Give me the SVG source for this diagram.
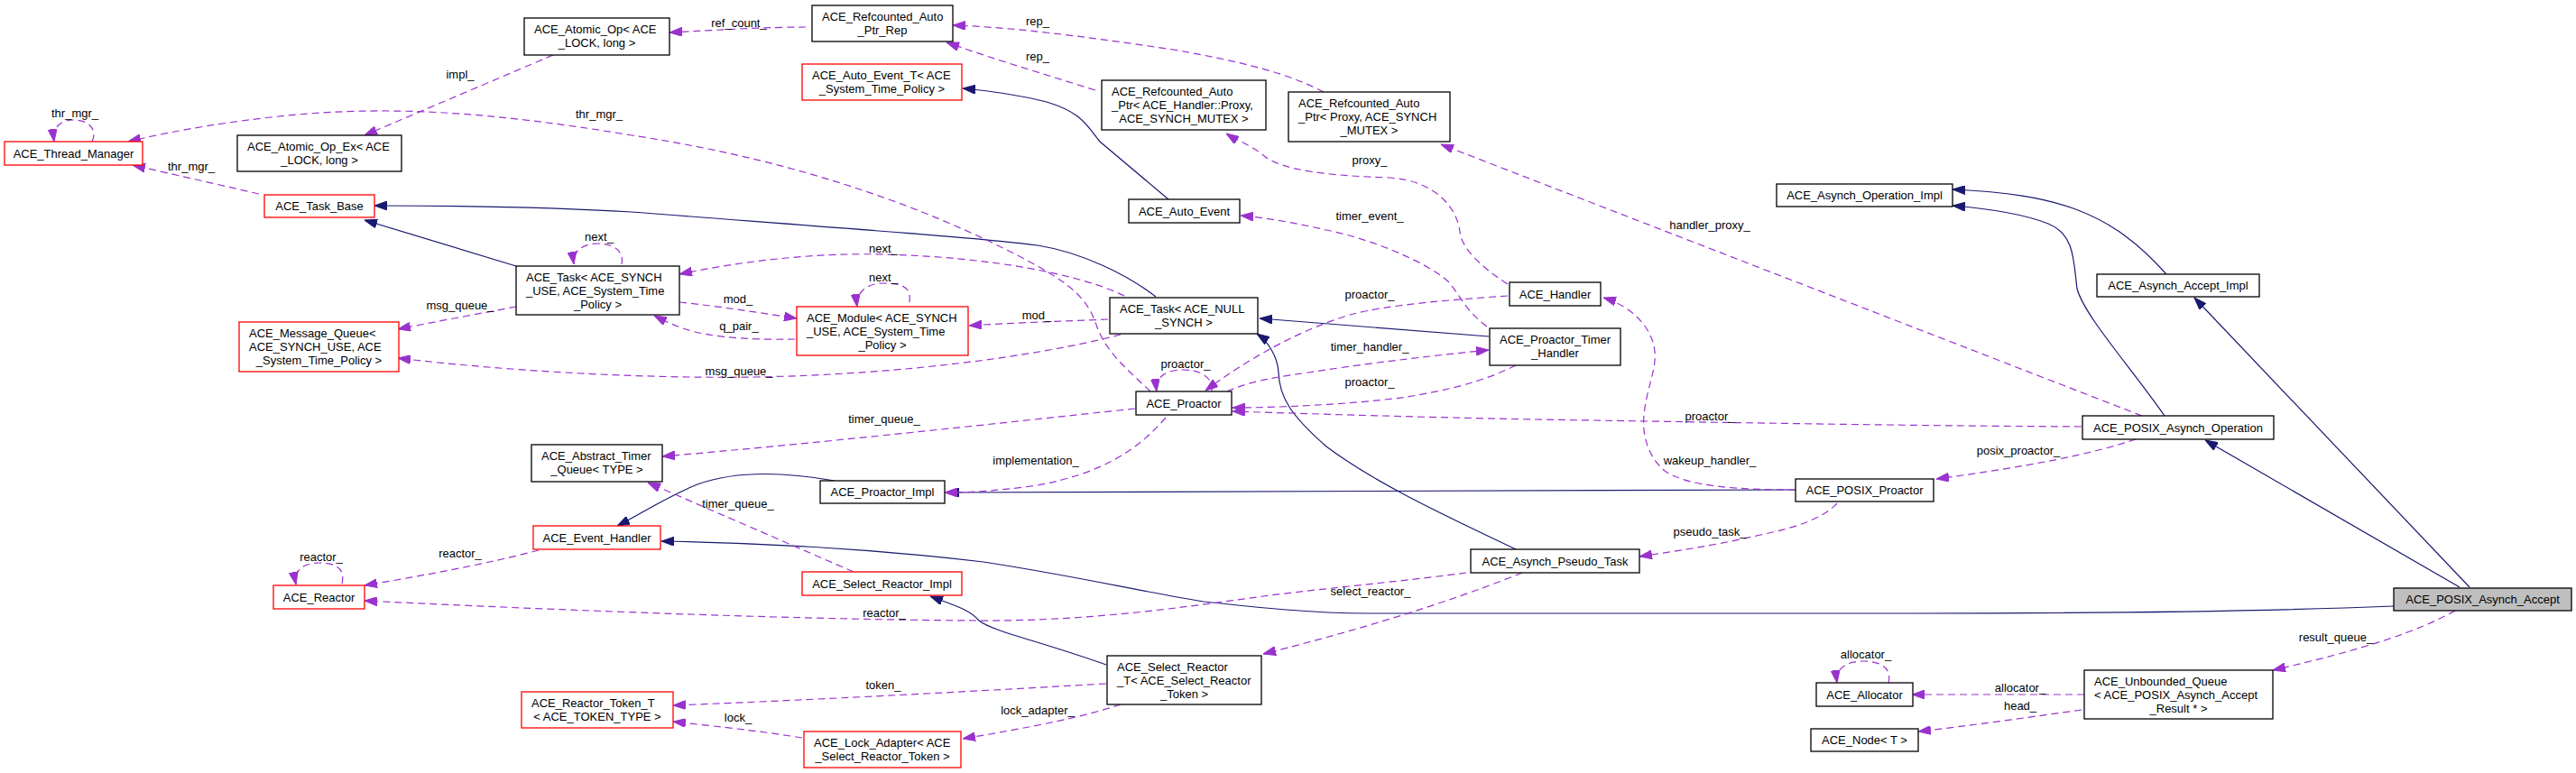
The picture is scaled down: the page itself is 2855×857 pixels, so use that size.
<svg xmlns="http://www.w3.org/2000/svg" width="2855" height="857" viewBox="0 0 2855 857">
<defs>
<marker id="pa" viewBox="0 0 14 10" refX="14" refY="5" markerWidth="14" markerHeight="10" markerUnits="userSpaceOnUse" orient="auto"><path d="M0,0 L14,5 L0,10 z" fill="#9a32cd" stroke="#9a32cd" stroke-width="1"/></marker>
<marker id="na" viewBox="0 0 14 10" refX="14" refY="5" markerWidth="14" markerHeight="10" markerUnits="userSpaceOnUse" orient="auto"><path d="M0,0 L14,5 L0,10 z" fill="#191970" stroke="#191970" stroke-width="1"/></marker>
<style>
text{font-family:"Liberation Sans",Arial,Helvetica,sans-serif;font-size:13px;fill:#000}
.c{text-anchor:middle}
.r rect{stroke:#ff0000;fill:#fff;stroke-width:1.3}
.b rect{stroke:#000;fill:#fff;stroke-width:1.3}
.g rect{stroke:#000;fill:#bfbfbf;stroke-width:1.3}
.e path{fill:none;stroke-width:1.2}
.m{stroke:#9a32cd;stroke-dasharray:8,5;marker-end:url(#pa)}
.i{stroke:#191970;marker-end:url(#na)}
</style>
</defs>
<rect width="2855" height="857" fill="#fff"/>
<g id="edges" class="e">
<!-- inheritance -->
<path class="i" d="M572,295 L404,244"/>
<path class="i" d="M1281,329 C1250,305 1200,280 1150,272 C1100,265 1000,258 700,235 C600,229 500,228 415,228"/>
<path class="i" d="M1295,221 L1219,157 C1205,140 1200,125 1160,113 C1120,103 1090,100 1067,98"/>
<path class="i" d="M1650,373 L1396,353"/>
<path class="i" d="M1680,609 C1620,580 1530,540 1470,495 C1430,460 1418,440 1417,413 C1416,395 1405,378 1393,370"/>
<path class="i" d="M925,533 C880,525 820,520 773,537 C740,550 710,570 684,583"/>
<path class="i" d="M1990,543 L1049,546"/>
<path class="i" d="M1226,737 C1150,710 1100,700 1085,688 C1075,676 1060,672 1031,661"/>
<path class="i" d="M2653,672 C2500,678 2300,680 2120,680 L1515,680 C1450,680 1380,672 1334,667 C1260,655 1200,640 1090,623 C980,610 850,602 733,600"/>
<path class="i" d="M2726,651 L2444,488"/>
<path class="i" d="M2737,651 L2432,330"/>
<path class="i" d="M2401,304 C2340,235 2280,215 2164,210"/>
<path class="i" d="M2399,461 C2360,405 2310,350 2302,320 C2298,290 2300,260 2270,248 C2240,236 2200,231 2164,228"/>
<!-- members -->
<path class="m" d="M102,157 C108,145 100,133 82,133 C66,133 58,142 60,157"/>
<path class="m" d="M287,215 L147,183"/>
<path class="m" d="M1275,434 C1250,410 1225,390 1215,360 C1205,330 1185,315 1150,295 C1050,240 900,180 700,150 C550,125 430,115 300,130 C230,138 180,148 142,157"/>
<path class="m" d="M613,61 L404,150"/>
<path class="m" d="M893,30 C850,30 800,33 742,36"/>
<path class="m" d="M1467,102 C1440,88 1400,72 1300,55 C1200,40 1120,30 1056,28"/>
<path class="m" d="M1214,100 C1150,80 1100,65 1049,47"/>
<path class="m" d="M1671,315 C1640,295 1620,275 1618,257 C1615,230 1590,200 1540,197 C1480,195 1420,190 1400,172 C1385,160 1370,155 1359,148"/>
<path class="m" d="M1648,362 C1625,345 1620,330 1605,312 C1580,290 1520,265 1470,255 C1430,246 1400,241 1375,239"/>
<path class="m" d="M2374,461 L1597,160"/>
<path class="m" d="M1246,328 C1200,305 1100,285 980,282 C900,280 820,290 753,304"/>
<path class="m" d="M1228,354 C1180,356 1120,358 1074,361"/>
<path class="m" d="M753,335 C800,340 850,348 883,353"/>
<path class="m" d="M881,376 C840,377 790,375 760,365 C745,360 735,355 725,350"/>
<path class="m" d="M1008,335 C1010,318 1000,314 979,314 C960,314 948,325 950,340"/>
<path class="m" d="M689,293 C692,278 680,270 662,270 C645,270 634,280 636,293"/>
<path class="m" d="M572,340 C530,348 480,357 441,365"/>
<path class="m" d="M1242,371 C1150,395 1000,415 838,418 C700,420 550,410 441,397"/>
<path class="m" d="M1258,453 C1100,470 900,492 734,506"/>
<path class="m" d="M1292,463 C1260,500 1220,525 1150,538 C1100,545 1070,546 1047,546"/>
<path class="m" d="M946,634 L718,535"/>
<path class="m" d="M1343,434 C1345,418 1330,410 1311,410 C1292,410 1280,418 1282,434"/>
<path class="m" d="M1671,328 C1600,333 1540,338 1500,348 C1440,365 1380,400 1336,433"/>
<path class="m" d="M1360,434 C1380,425 1400,420 1450,413 C1520,402 1600,393 1650,388"/>
<path class="m" d="M1680,405 C1640,425 1600,433 1560,440 C1500,448 1420,452 1366,452"/>
<path class="m" d="M2307,473 C2100,472 1900,468 1700,465 C1550,462 1430,458 1366,456"/>
<path class="m" d="M2367,487 C2320,503 2250,517 2146,531"/>
<path class="m" d="M1990,543 C1930,543 1870,540 1845,522 C1825,505 1820,480 1822,460 C1825,430 1836,410 1834,390 C1832,365 1810,340 1777,330"/>
<path class="m" d="M2036,558 C2020,575 1990,585 1951,593 C1900,605 1850,612 1817,617"/>
<path class="m" d="M1687,635 C1600,670 1500,700 1400,725"/>
<path class="m" d="M1625,635 C1550,645 1470,652 1400,661 C1300,675 1200,689 1081,688 C900,687 650,678 404,666"/>
<path class="m" d="M597,610 C540,625 470,638 404,649"/>
<path class="m" d="M379,647 C383,630 372,624 354,624 C336,624 325,633 328,648"/>
<path class="m" d="M1226,758 C1050,768 900,776 746,782"/>
<path class="m" d="M1242,781 C1200,795 1150,805 1067,819"/>
<path class="m" d="M889,818 C840,810 790,805 746,800"/>
<path class="m" d="M2721,677 C2680,700 2620,720 2519,743"/>
<path class="m" d="M2310,770 L2119,770"/>
<path class="m" d="M2307,787 C2250,795 2180,805 2126,811"/>
<path class="m" d="M2093,757 C2097,741 2085,733 2065,733 C2045,733 2034,742 2036,757"/>
<!-- labels -->
<text class="c" x="83" y="130">thr_mgr_</text>
<text class="c" x="212" y="189">thr_mgr_</text>
<text class="c" x="664" y="131">thr_mgr_</text>
<text class="c" x="510" y="87">impl_</text>
<text class="c" x="819" y="30">ref_count_</text>
<text class="c" x="1150" y="28">rep_</text>
<text class="c" x="1150" y="67">rep_</text>
<text class="c" x="1518" y="182">proxy_</text>
<text class="c" x="1518" y="244">timer_event_</text>
<text class="c" x="1895" y="254">handler_proxy_</text>
<text class="c" x="979" y="280">next_</text>
<text class="c" x="1149" y="354">mod_</text>
<text class="c" x="818" y="336">mod_</text>
<text class="c" x="819" y="366">q_pair_</text>
<text class="c" x="979" y="312">next_</text>
<text class="c" x="664" y="267">next_</text>
<text class="c" x="510" y="343">msg_queue_</text>
<text class="c" x="819" y="416">msg_queue_</text>
<text class="c" x="980" y="469">timer_queue_</text>
<text class="c" x="1148" y="515">implementation_</text>
<text class="c" x="818" y="563">timer_queue_</text>
<text class="c" x="1314" y="408">proactor_</text>
<text class="c" x="1518" y="331">proactor_</text>
<text class="c" x="1518" y="389">timer_handler_</text>
<text class="c" x="1518" y="428">proactor_</text>
<text class="c" x="1895" y="466">proactor_</text>
<text class="c" x="2237" y="504">posix_proactor_</text>
<text class="c" x="1895" y="515">wakeup_handler_</text>
<text class="c" x="1895" y="594">pseudo_task_</text>
<text class="c" x="1519" y="660">select_reactor_</text>
<text class="c" x="980" y="684">reactor_</text>
<text class="c" x="510" y="618">reactor_</text>
<text class="c" x="356" y="622">reactor_</text>
<text class="c" x="979" y="764">token_</text>
<text class="c" x="1150" y="792">lock_adapter_</text>
<text class="c" x="818" y="800">lock_</text>
<text class="c" x="2589" y="711">result_queue_</text>
<text class="c" x="2239" y="767">allocator_</text>
<text class="c" x="2239" y="787">head_</text>
<text class="c" x="2068" y="730">allocator_</text>
</g>
<g id="ACE_Thread_Manager" class="r"><rect x="5" y="157" width="153" height="26"/><text class="c" x="81.5" y="174.5">ACE_Thread_Manager</text></g>
<g id="ACE_Atomic_Op_Ex" class="b"><rect x="263" y="150" width="182" height="40"/><text x="274" y="166.5">ACE_Atomic_Op_Ex&lt; ACE</text><text class="c" x="354" y="181.5">_LOCK, long &gt;</text></g>
<g id="ACE_Atomic_Op" class="b"><rect x="581" y="20" width="161" height="41"/><text x="592" y="36.5">ACE_Atomic_Op&lt; ACE</text><text class="c" x="661.5" y="51.5">_LOCK, long &gt;</text></g>
<g id="ACE_Refcounted_Auto_Ptr_Rep" class="b"><rect x="900" y="6" width="156" height="40"/><text x="911" y="22.5">ACE_Refcounted_Auto</text><text class="c" x="978" y="37.5">_Ptr_Rep</text></g>
<g id="ACE_Auto_Event_T" class="r"><rect x="889" y="71" width="177" height="40"/><text x="900" y="87.5">ACE_Auto_Event_T&lt; ACE</text><text class="c" x="977.5" y="102.5">_System_Time_Policy &gt;</text></g>
<g id="ACE_Refcounted_Auto_Ptr_Handler_Proxy" class="b"><rect x="1221" y="89" width="182" height="55"/><text x="1232" y="106">ACE_Refcounted_Auto</text><text x="1232" y="121">_Ptr&lt; ACE_Handler::Proxy,</text><text class="c" x="1312" y="136">ACE_SYNCH_MUTEX &gt;</text></g>
<g id="ACE_Refcounted_Auto_Ptr_Proxy" class="b"><rect x="1428" y="102" width="179" height="55"/><text x="1439" y="119">ACE_Refcounted_Auto</text><text x="1439" y="134">_Ptr&lt; Proxy, ACE_SYNCH</text><text class="c" x="1517.5" y="149">_MUTEX &gt;</text></g>
<g id="ACE_Auto_Event" class="b"><rect x="1251" y="221" width="123" height="26"/><text class="c" x="1312.5" y="238.5">ACE_Auto_Event</text></g>
<g id="ACE_Task_Base" class="r"><rect x="293" y="216" width="122" height="25"/><text class="c" x="354" y="233">ACE_Task_Base</text></g>
<g id="ACE_Asynch_Operation_Impl" class="b"><rect x="1969" y="204" width="195" height="25"/><text class="c" x="2066.5" y="221">ACE_Asynch_Operation_Impl</text></g>
<g id="ACE_Task_SYNCH" class="b"><rect x="572" y="295" width="181" height="54"/><text x="583" y="312">ACE_Task&lt; ACE_SYNCH</text><text x="583" y="327">_USE, ACE_System_Time</text><text class="c" x="662.5" y="342">_Policy &gt;</text></g>
<g id="ACE_Module" class="r"><rect x="883" y="340" width="190" height="54"/><text x="894" y="357">ACE_Module&lt; ACE_SYNCH</text><text x="894" y="372">_USE, ACE_System_Time</text><text class="c" x="978" y="387">_Policy &gt;</text></g>
<g id="ACE_Task_NULL_SYNCH" class="b"><rect x="1230" y="330" width="164" height="40"/><text x="1241" y="346.5">ACE_Task&lt; ACE_NULL</text><text class="c" x="1312" y="361.5">_SYNCH &gt;</text></g>
<g id="ACE_Handler" class="b"><rect x="1673" y="313" width="101" height="26"/><text class="c" x="1723.5" y="330.5">ACE_Handler</text></g>
<g id="ACE_Proactor_Timer_Handler" class="b"><rect x="1651" y="364" width="145" height="41"/><text x="1662" y="380.5">ACE_Proactor_Timer</text><text class="c" x="1723.5" y="395.5">_Handler</text></g>
<g id="ACE_Asynch_Accept_Impl" class="b"><rect x="2324" y="304" width="180" height="25"/><text class="c" x="2414" y="321">ACE_Asynch_Accept_Impl</text></g>
<g id="ACE_Message_Queue" class="r"><rect x="265" y="357" width="177" height="55"/><text x="276" y="374">ACE_Message_Queue&lt;</text><text x="276" y="389">ACE_SYNCH_USE, ACE</text><text class="c" x="353.5" y="404">_System_Time_Policy &gt;</text></g>
<g id="ACE_Proactor" class="b"><rect x="1259" y="434" width="106" height="26"/><text class="c" x="1312" y="451.5">ACE_Proactor</text></g>
<g id="ACE_POSIX_Asynch_Operation" class="b"><rect x="2308" y="461" width="212" height="26"/><text class="c" x="2414" y="478.5">ACE_POSIX_Asynch_Operation</text></g>
<g id="ACE_Abstract_Timer_Queue" class="b"><rect x="589" y="493" width="145" height="41"/><text x="600" y="509.5">ACE_Abstract_Timer</text><text class="c" x="661.5" y="524.5">_Queue&lt; TYPE &gt;</text></g>
<g id="ACE_Proactor_Impl" class="b"><rect x="909" y="533" width="138" height="25"/><text class="c" x="978" y="550">ACE_Proactor_Impl</text></g>
<g id="ACE_POSIX_Proactor" class="b"><rect x="1990" y="531" width="153" height="25"/><text class="c" x="2066.5" y="548">ACE_POSIX_Proactor</text></g>
<g id="ACE_Event_Handler" class="r"><rect x="591" y="583" width="141" height="26"/><text class="c" x="661.5" y="600.5">ACE_Event_Handler</text></g>
<g id="ACE_Select_Reactor_Impl" class="r"><rect x="889" y="634" width="177" height="26"/><text class="c" x="977.5" y="651.5">ACE_Select_Reactor_Impl</text></g>
<g id="ACE_Asynch_Pseudo_Task" class="b"><rect x="1630" y="609" width="187" height="26"/><text class="c" x="1723.5" y="626.5">ACE_Asynch_Pseudo_Task</text></g>
<g id="ACE_Reactor" class="r"><rect x="303" y="649" width="101" height="26"/><text class="c" x="353.5" y="666.5">ACE_Reactor</text></g>
<g id="ACE_POSIX_Asynch_Accept" class="g"><rect x="2653" y="652" width="197" height="25"/><text class="c" x="2751.5" y="669">ACE_POSIX_Asynch_Accept</text></g>
<g id="ACE_Select_Reactor_T" class="b"><rect x="1227" y="727" width="171" height="54"/><text x="1238" y="744">ACE_Select_Reactor</text><text x="1238" y="759">_T&lt; ACE_Select_Reactor</text><text class="c" x="1312.5" y="774">_Token &gt;</text></g>
<g id="ACE_Reactor_Token_T" class="r"><rect x="578" y="767" width="168" height="40"/><text x="589" y="783.5">ACE_Reactor_Token_T</text><text class="c" x="662" y="798.5">&lt; ACE_TOKEN_TYPE &gt;</text></g>
<g id="ACE_Lock_Adapter" class="r"><rect x="891" y="811" width="174" height="40"/><text x="902" y="827.5">ACE_Lock_Adapter&lt; ACE</text><text class="c" x="978" y="842.5">_Select_Reactor_Token &gt;</text></g>
<g id="ACE_Unbounded_Queue" class="b"><rect x="2310" y="743" width="209" height="54"/><text x="2321" y="760">ACE_Unbounded_Queue</text><text x="2321" y="775">&lt; ACE_POSIX_Asynch_Accept</text><text class="c" x="2414.5" y="790">_Result * &gt;</text></g>
<g id="ACE_Allocator" class="b"><rect x="2013" y="757" width="107" height="26"/><text class="c" x="2066.5" y="774.5">ACE_Allocator</text></g>
<g id="ACE_Node" class="b"><rect x="2007" y="808" width="119" height="25"/><text class="c" x="2066.5" y="825">ACE_Node&lt; T &gt;</text></g>
</svg>
